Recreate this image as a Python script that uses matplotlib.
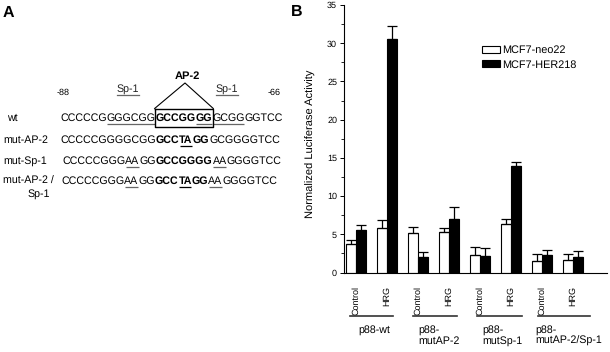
import matplotlib
matplotlib.use("Agg")
import matplotlib.pyplot as plt
import matplotlib.transforms as mtrans
from matplotlib.ticker import MultipleLocator
import numpy as np

plt.rcParams['font.family'] = ['Liberation Sans', 'DejaVu Sans']
plt.rcParams['text.hinting'] = 'no_hinting'

# ---- data ----
constructs = ["p88-wt", "p88-\nmutAP-2", "p88-\nmutSp-1", "p88-\nmutAP-2/Sp-1"]
treatments = ["Control", "HRG"]
series = ["MCF7-neo22", "MCF7-HER218"]
neo_mean = [3.7, 5.8, 5.2, 5.3, 2.25, 6.3, 1.55, 1.6]
neo_err = [0.5, 1.05, 0.75, 0.57, 1.12, 0.75, 0.82, 0.77]
her_mean = [5.55, 30.6, 2.0, 7.05, 2.15, 14.0, 2.3, 2.05]
her_err = [0.7, 1.7, 0.67, 1.5, 1.0, 0.4, 0.6, 0.7]

# sequences: (text, bold, underline colour or None)
G = '#666666'
seq_names = ["wt", "mut-AP-2", "mut-Sp-1", "mut-AP-2 /\nSp-1"]
seq_wt = [("CCCCCG", 0, None), ("GGGCGG", 0, G), ("GCCGG", 1, None), ("GG", 1, G),
          ("GCGG", 0, G), ("GGTCC", 0, None)]
seq_ap2 = [("CCCCCGGGGCGG", 0, None), ("GCC", 1, None), ("TA", 1, 'k'), ("GG", 1, None),
           ("GCGGGGTCC", 0, None)]
seq_sp1 = [("CCCCCGGG", 0, None), ("AA", 0, G), ("GG", 0, None), ("GCCGGGG", 1, None),
           ("AA", 0, G), ("GGGGTCC", 0, None)]
seq_both = [("CCCCCGGG", 0, None), ("AA", 0, G), ("GG", 0, None), ("GCC", 1, None),
            ("TA", 1, 'k'), ("GG", 1, None), ("AA", 0, G), ("GGGGTCC", 0, None)]

fig = plt.figure(figsize=(6.1, 3.52), dpi=100)
renderer = fig.canvas.get_renderer()

# ---- panel A (pixel coordinates) ----
axa = fig.add_axes([0, 0, 1, 1], zorder=0)
axa.set_xlim(0, 610)
axa.set_ylim(352, 0)
axa.axis('off')


def adv(txt, fs, bold):
    t = axa.text(0, 0, txt, fontsize=fs, fontweight='bold' if bold else 'normal')
    w = t.get_window_extent(renderer).width
    t.remove()
    return w


# pick font size so the wt row is ~223 px wide, like the reference
ref_w = sum(adv(s, 10, b) for s, b, _ in seq_wt)
FS = 10 * 223 / ref_w


def draw_seq(x, y, segs):
    spans = []
    for txt, bold, ul in segs:
        axa.text(x, y, txt, fontsize=FS, fontweight='bold' if bold else 'normal',
                 va='baseline', ha='left')
        w = adv(txt, FS, bold)
        if ul:
            axa.plot([x + 0.5, x + w - 0.5], [y + 2.6, y + 2.6], color=ul, lw=0.9,
                     solid_capstyle='butt')
        spans.append((x, x + w))
        x += w
    return spans


rows_y = [121, 143, 164, 184]
starts = [60, 60, 62, 61]
label_x = [7, 3, 3, 3]
for name, y, x0, lx, segs in zip(seq_names, rows_y, starts, label_x,
                                 [seq_wt, seq_ap2, seq_sp1, seq_both]):
    sp = draw_seq(x0, y, segs)
    if name == "wt":
        bx0, bx1 = sp[2][0] - 1, sp[3][1] + 1
    if "\n" in name:
        a, b = name.split("\n")
        axa.text(lx, y, a, fontsize=FS, va='baseline', ha='left')
        axa.text(50, y + 13, b, fontsize=FS, va='baseline', ha='right')
    else:
        axa.text(lx, y, name, fontsize=FS, va='baseline', ha='left')

# AP-2 box and triangle
axa.plot([bx0, bx1, bx1, bx0, bx0], [108.5, 108.5, 126.7, 126.7, 108.5], color='k', lw=1.0)
axa.plot([bx0, 185, bx1], [108.5, 83, 108.5], color='k', lw=0.8)
axa.text(187, 76, "AP-2", fontsize=8, fontweight='bold', ha='center', va='center')
for sx in [128, 227]:
    axa.text(sx, 92, "Sp-1", fontsize=FS, ha='center', va='baseline', color='#222222')
    w = adv("Sp-1", FS, False)
    axa.plot([sx - w / 2, sx + w / 2], [94.5, 94.5], color=G, lw=0.9)
axa.text(63, 93, "-88", fontsize=6.5, ha='center', va='center')
axa.text(274, 93, "-66", fontsize=6.5, ha='center', va='center')

fig.text(3 / 610, 1 - 5 / 352, "A", fontsize=11.5, fontweight='bold', ha='left', va='top')
fig.text(291 / 610, 1 - 4 / 352, "B", fontsize=11.5, fontweight='bold', ha='left', va='top')

# ---- panel B ----
ax = fig.add_axes([344 / 610, 1 - 272.5 / 352, 263 / 610, 267.5 / 352], zorder=1)
ax.patch.set_alpha(0)
x = np.arange(len(neo_mean))
w = 0.32
b1 = ax.bar(x - w / 2, neo_mean, w, color='white', edgecolor='k', lw=0.8, label=series[0])
b2 = ax.bar(x + w / 2, her_mean, w, color='black', edgecolor='k', lw=0.8, label=series[1])
ax.errorbar(x - w / 2, neo_mean, yerr=[np.zeros(len(x)), neo_err], fmt='none',
            ecolor='k', elinewidth=0.9, capsize=3.6, capthick=0.9)
ax.errorbar(x + w / 2, her_mean, yerr=[np.zeros(len(x)), her_err], fmt='none',
            ecolor='k', elinewidth=0.9, capsize=3.6, capthick=0.9)

ax.set_xlim(-0.39, 8.1)
ax.set_ylim(0, 35)
ax.yaxis.set_major_locator(MultipleLocator(5))
ax.yaxis.set_minor_locator(MultipleLocator(2.5))
ax.tick_params(axis='y', which='major', length=3, width=0.7, labelsize=6.5, pad=2)
ax.tick_params(axis='y', which='minor', length=2, width=0.6)
ax.set_xticks(x)
ax.set_xticklabels(treatments * len(constructs), rotation=90, fontsize=6.5)
ax.tick_params(axis='x', length=0, pad=10)
for s in ['top', 'right']:
    ax.spines[s].set_visible(False)
for s in ['left', 'bottom']:
    ax.spines[s].set_linewidth(0.8)
ax.set_ylabel("Normalized Luciferase Activity", fontsize=8)
ax.yaxis.set_label_coords(-0.106, 0.48)

ax.legend(handles=[b1, b2], loc='upper left', bbox_to_anchor=(0.524, 0.85), frameon=False,
          fontsize=7.8, handlelength=1.7, handleheight=0.65, handletextpad=0.2,
          labelspacing=0.4, borderpad=0, borderaxespad=0)

trans = mtrans.blended_transform_factory(ax.transData, ax.transAxes)
line_ext = [(-0.19, 1.19), (1.84, 3.26), (3.9, 5.35), (5.87, 7.55)]
label_x0 = [0.06, 2.0, 4.06, 5.8]
for name, (l0, l1), lx in zip(constructs, line_ext, label_x0):
    ax.plot([l0, l1], [-0.1615, -0.1615], color='#333333', lw=1.2, transform=trans, clip_on=False)
    ax.text(lx, -0.195, name, fontsize=7.7, ha='left', va='top', linespacing=1.1,
            transform=trans)

fig.savefig("out.png", dpi=100)
